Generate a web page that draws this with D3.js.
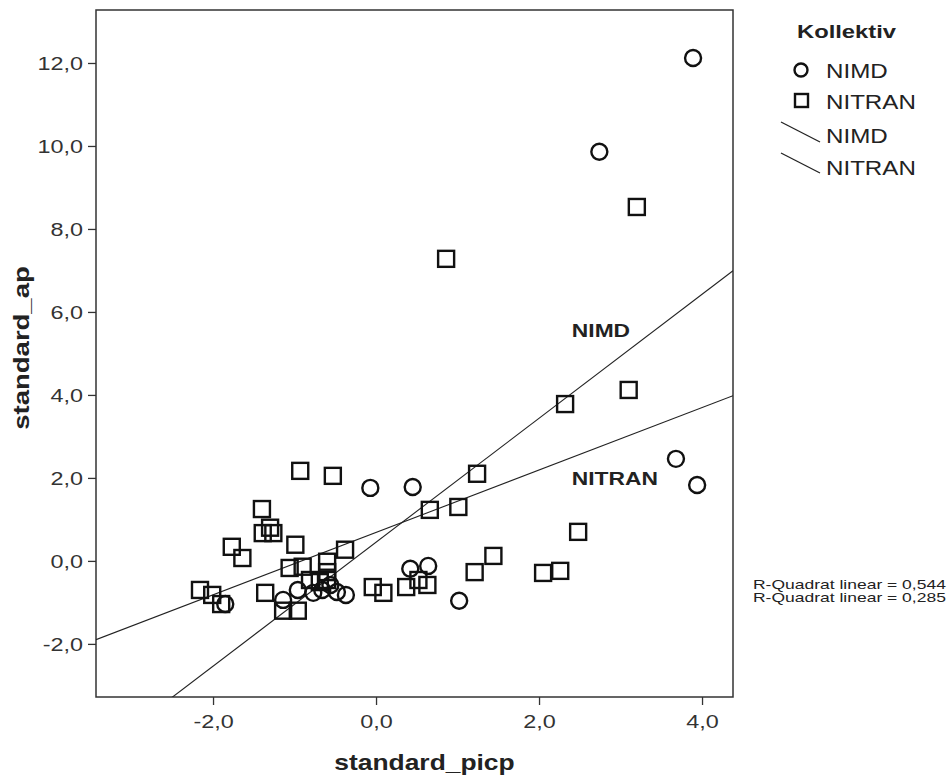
<!DOCTYPE html>
<html><head><meta charset="utf-8">
<script src="https://cdn.jsdelivr.net/npm/d3@7"></script>
<style>body{margin:0;background:#fff}svg{display:block}</style>
</head><body><svg id="c" width="950" height="778"></svg>
<script>
const nimdX = [3.89,2.74,3.68,3.94,-0.07,0.45,1.02,0.42,0.64,-0.37,-0.48,-0.66,-0.77,-0.96,-1.14,-1.85,-0.56];
const nimdY = [12.12,9.86,2.46,1.83,1.76,1.78,-0.96,-0.19,-0.12,-0.82,-0.75,-0.70,-0.77,-0.70,-0.94,-1.04,-0.58];
const nitranX = [0.86,3.20,2.32,3.10,1.24,-0.93,-0.53,1.01,0.66,2.48,1.44,1.21,2.05,2.26,-1.40,-1.39,-1.30,-1.26,-1.77,-1.64,-0.99,-0.38,-0.60,-0.60,-0.60,-1.06,-0.90,-1.36,-2.16,-2.01,-1.90,-1.14,-0.96,-0.04,0.09,0.37,0.52,0.63,-0.69,-0.81];
const nitranY = [7.28,8.53,3.78,4.12,2.10,2.17,2.05,1.30,1.23,0.70,0.12,-0.27,-0.29,-0.24,1.25,0.67,0.80,0.67,0.34,0.07,0.39,0.27,-0.02,-0.27,-0.46,-0.17,-0.14,-0.77,-0.70,-0.82,-1.04,-1.20,-1.20,-0.63,-0.77,-0.63,-0.46,-0.58,-0.51,-0.46];
// fit lines: [intercept, slope]
const fitNIMD = [0.45, 1.494];
const fitNITRAN = [0.686, 0.752];
const xTicks = [-2,0,2,4];
const yTicks = [-2,0,2,4,6,8,10,12];
const rsq = ["R-Quadrat linear = 0,544","R-Quadrat linear = 0,285"];

const svg = d3.select("#c");
const L=96, R=733, T=10, B=697;
const x = d3.scaleLinear().domain([-3.436,4.38]).range([L,R]);
const y = d3.scaleLinear().domain([-3.28,13.277]).range([B,T]);
const fmt = d => d3.format(".1f")(d).replace(".",",").replace("−","-");
const font = "'Liberation Sans', Arial, sans-serif";

function txt(px, py, s, size, opt={}) {
  const sx = opt.sx || 1.15;
  const rot = opt.rot ? ` rotate(${opt.rot})` : "";
  return svg.append("text")
    .attr("transform", `translate(${px},${py})${rot} scale(${sx},1)`)
    .attr("font-family", font).attr("font-size", size)
    .attr("font-weight", opt.bold ? "bold" : "normal")
    .attr("text-anchor", opt.anchor || "start")
    .attr("fill", opt.fill || "#222").text(s);
}

svg.append("defs").append("clipPath").attr("id","clip").append("rect")
  .attr("x",L).attr("y",T).attr("width",R-L).attr("height",B-T);

// axes (ticks via d3 axis, labels scaled)
const gx = svg.append("g").attr("transform",`translate(0,${B})`)
  .call(d3.axisBottom(x).tickValues(xTicks).tickFormat(fmt).tickSize(8).tickSizeOuter(0));
const gy = svg.append("g").attr("transform",`translate(${L},0)`)
  .call(d3.axisLeft(y).tickValues(yTicks).tickFormat(fmt).tickSize(8).tickSizeOuter(0));
[gx,gy].forEach(g=>{
  g.select(".domain").remove();
  g.selectAll("line").attr("stroke","#333").attr("stroke-width",1.3);
  g.selectAll("text").attr("font-family",font).attr("font-size",18).attr("fill","#333");
});
gx.selectAll("text").attr("y",0).attr("dy",0).attr("transform","translate(0,31) scale(1.3,1)");
gy.selectAll("text").attr("x",0).attr("dy","0.35em").attr("transform","translate(-13,0) scale(1.3,1)");

// frame
svg.append("rect").attr("x",L).attr("y",T).attr("width",R-L).attr("height",B-T)
  .attr("fill","none").attr("stroke","#333").attr("stroke-width",1.5);

// fit lines
const plot = svg.append("g").attr("clip-path","url(#clip)");
[fitNIMD, fitNITRAN].forEach(f=>{
  const x0=-3.436, x1=4.38;
  plot.append("line").attr("x1",x(x0)).attr("y1",y(f[0]+f[1]*x0))
    .attr("x2",x(x1)).attr("y2",y(f[0]+f[1]*x1))
    .attr("stroke","#222").attr("stroke-width",1.1);
});

// points
const nitran = nitranX.map((v,i)=>[v,nitranY[i]]);
const nimd = nimdX.map((v,i)=>[v,nimdY[i]]);
plot.selectAll("rect.sq").data(nitran).join("rect").attr("class","sq")
  .attr("x",d=>x(d[0])-8).attr("y",d=>y(d[1])-8).attr("width",16).attr("height",16)
  .attr("fill","none").attr("stroke","#111").attr("stroke-width",2.4);
plot.selectAll("circle.ci").data(nimd).join("circle").attr("class","ci")
  .attr("cx",d=>x(d[0])).attr("cy",d=>y(d[1])).attr("r",8)
  .attr("fill","none").attr("stroke","#111").attr("stroke-width",2.4);

// line labels
txt(x(2.76), y(5.4), "NIMD", 19, {bold:true, anchor:"middle", sx:1.2});
txt(x(2.93), y(1.84), "NITRAN", 19, {bold:true, anchor:"middle", sx:1.2});

// axis titles
txt((L+R)/2+10, 770, "standard_picp", 22, {bold:true, anchor:"middle", sx:1.2});
txt(29, 348, "standard_ap", 22, {bold:true, anchor:"middle", sx:1.25, rot:-90});

// legend
txt(797, 38, "Kollektiv", 19, {bold:true, sx:1.25});
svg.append("circle").attr("cx",801).attr("cy",70).attr("r",6.5).attr("fill","none").attr("stroke","#111").attr("stroke-width",2.4);
txt(826, 78, "NIMD", 21);
svg.append("rect").attr("x",795).attr("y",94).attr("width",13).attr("height",13).attr("fill","none").attr("stroke","#111").attr("stroke-width",2.4);
txt(826, 109, "NITRAN", 21);
svg.append("line").attr("x1",781).attr("y1",122).attr("x2",820).attr("y2",142).attr("stroke","#222").attr("stroke-width",1.3);
txt(826, 143, "NIMD", 21);
svg.append("line").attr("x1",781).attr("y1",153).attr("x2",820).attr("y2",173).attr("stroke","#222").attr("stroke-width",1.3);
txt(826, 175, "NITRAN", 21);

rsq.forEach((t,i)=>{
  txt(753, 589+i*12.5, t, 12.5, {sx:1.4});
});
</script></body></html>
